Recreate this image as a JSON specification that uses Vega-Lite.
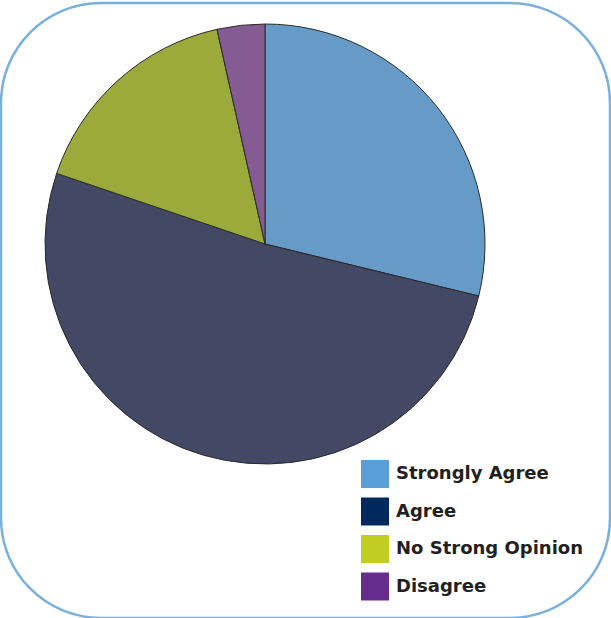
{
  "$schema": "https://vega.github.io/schema/vega-lite/v6.json",
  "autosize": {"type": "fit", "contains": "padding"},
  "width": 611,
  "height": 618,
  "padding": {"left": 1, "top": 3, "right": 1, "bottom": 0},
  "background": "white",
  "view": {"stroke": "#7AB0DE", "strokeWidth": 2.5, "cornerRadius": 100, "fill": "white"},
  "data": {
    "values": [
      {"response": "Strongly Agree", "pct": 28.8, "ord": 1},
      {"response": "Agree", "pct": 51.4, "ord": 2},
      {"response": "No Strong Opinion", "pct": 16.3, "ord": 3},
      {"response": "Disagree", "pct": 3.5, "ord": 4}
    ]
  },
  "layer": [
    {
      "mark": {
        "type": "arc",
        "outerRadius": 220,
        "stroke": "#2a2a2a",
        "strokeWidth": 1,
        "x": {"expr": "264"},
        "y": {"expr": "241"}
      },
      "encoding": {
        "theta": {"field": "pct", "type": "quantitative", "stack": true},
        "order": {"field": "ord", "type": "quantitative"},
        "color": {
          "field": "response",
          "type": "nominal",
          "scale": {
            "domain": ["Strongly Agree", "Agree", "No Strong Opinion", "Disagree"],
            "range": ["#679BC7", "#434865", "#9AAB3C", "#865A92"]
          },
          "legend": null
        }
      }
    },
    {
      "mark": {"type": "square", "opacity": 0, "size": 0},
      "encoding": {
        "fill": {
          "field": "response",
          "type": "nominal",
          "scale": {
            "domain": ["Strongly Agree", "Agree", "No Strong Opinion", "Disagree"],
            "range": ["#5B9FD8", "#002A5E", "#C2CD23", "#662D8E"]
          },
          "legend": {
            "title": null,
            "orient": "none",
            "legendX": 360,
            "legendY": 457,
            "symbolType": "square",
            "symbolSize": 784,
            "symbolOpacity": 1,
            "symbolStrokeWidth": 0,
            "rowPadding": 9.5,
            "labelOffset": 7,
            "labelFont": "DejaVu Sans",
            "labelFontWeight": "bold",
            "labelFontSize": 18,
            "labelColor": "#231F20",
            "labelLimit": 400
          }
        }
      }
    }
  ],
  "resolve": {"scale": {"color": "independent", "fill": "independent"}}
}
